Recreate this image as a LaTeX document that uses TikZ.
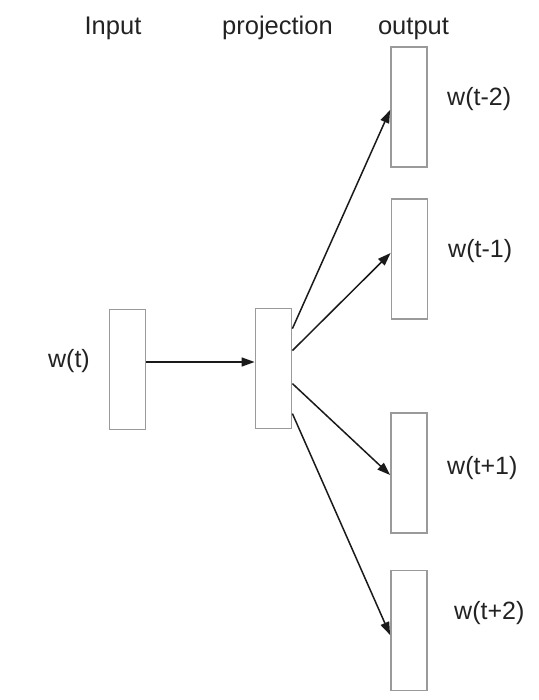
\documentclass[tikz,border=0pt]{standalone}
\usepackage{fontspec}
\setmainfont{Liberation Sans}
\usetikzlibrary{arrows.meta,calc}
\definecolor{boxgray}{HTML}{9A9A9A}
\definecolor{linedark}{HTML}{1A1A1A}
\definecolor{textdark}{HTML}{222222}
\tikzset{
  layerbox/.style={draw=boxgray, line width=1.8pt, fill=white, minimum width=36pt, minimum height=120pt, inner sep=0pt},
  heading/.style={text=textdark, font=\fontsize{25.5}{30}\selectfont, inner sep=0pt, anchor=base},
  wlabel/.style={text=textdark, font=\fontsize{25}{30}\selectfont, inner sep=0pt, anchor=base west},
  conn/.style={draw=linedark, line width=1.5pt, -{Triangle[length=13pt,width=9pt]}}
}
\begin{document}
\begin{tikzpicture}[x=1pt,y=-1pt]
\useasboundingbox (0,0) rectangle (538,700);
% boxes
\node[layerbox] (inp) at (127.5,369.5) {};
\node[layerbox] (proj) at (273.5,368.5) {};
\node[layerbox] (o1) at (409,107) {};
\node[layerbox] (o2) at (409.5,259) {};
\node[layerbox] (o3) at (409,473) {};
\node[layerbox] (o4) at (409,630.5) {};
% headings
\node[heading] (hin) at (113,34.5) {Input};
\node[heading] (hpr) at (277.5,35) {projection};
\node[heading] (hout) at (413.5,35) {output};
% labels
\node[text=textdark, font=\fontsize{25}{30}\selectfont, inner sep=0pt, anchor=base east] (lt) at (90,367) {w(t)};
\node[wlabel] (l1) at (447,106) {w(t-2)};
\node[wlabel] (l2) at (448,258) {w(t-1)};
\node[wlabel] (l3) at (447,474) {w(t+1)};
\node[wlabel] (l4) at (454,619) {w(t+2)};
% connection points
\coordinate (p1) at ($(proj.north east)+(0,21)$);
\coordinate (p2) at ($(proj.north east)+(0,43)$);
\coordinate (p3) at ($(proj.north east)+(0,76)$);
\coordinate (p4) at ($(proj.north east)+(0,106)$);
\coordinate (e1) at ($(o1.west)+(0,3)$);
\coordinate (e2) at ($(o2.west)+(0,-6)$);
\coordinate (e3) at ($(o3.west)+(0,2)$);
\coordinate (e4) at ($(o4.west)+(0,4.5)$);
% connectors
\draw[conn] (inp.east |- 0,362) -- (proj.west |- 0,362);
\draw[conn] (p1) -- (e1);
\draw[conn] (p2) -- (e2);
\draw[conn] (p3) -- (e3);
\draw[conn] (p4) -- (e4);
\end{tikzpicture}
\end{document}
